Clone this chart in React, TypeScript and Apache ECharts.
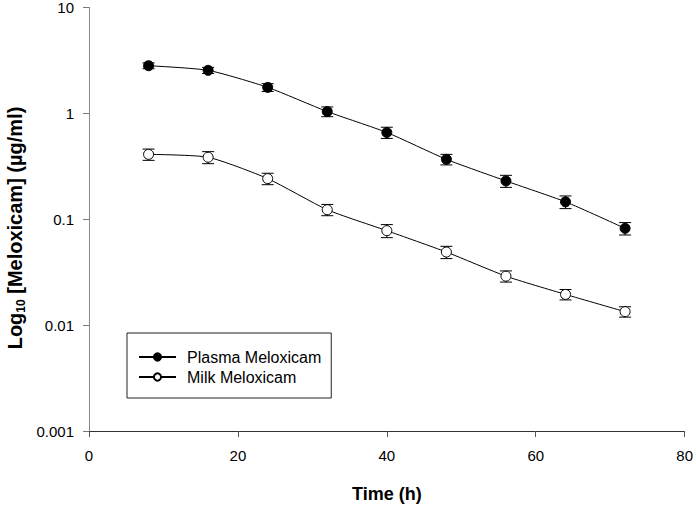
import React, { useEffect, useRef } from "react";
import * as echarts from "echarts";

const times = [8, 16, 24, 32, 40, 48, 56, 64, 72];
const plasma = [2.82, 2.55, 1.76, 1.04, 0.66, 0.368, 0.23, 0.146, 0.082];
const plasmaErr = [0.18, 0.17, 0.15, 0.11, 0.08, 0.042, 0.03, 0.02, 0.011];
const milk = [0.41, 0.385, 0.242, 0.123, 0.078, 0.049, 0.029, 0.0195, 0.0134];
const milkErr = [0.05, 0.05, 0.03, 0.015, 0.011, 0.0065, 0.0035, 0.0022, 0.0015];
const xTicks = [0, 20, 40, 60, 80];
const yTicks = ["0.001", "0.01", "0.1", "1", "10"];

const FONT = "'Liberation Sans', Arial, sans-serif";

function errData(vals: number[], errs: number[]) {
  return times.map((t, i) => [t, vals[i] - errs[i], vals[i] + errs[i]]);
}

function renderErr(params: any, api: any) {
  const x = api.value(0);
  const lo = api.coord([x, api.value(1)]);
  const hi = api.coord([x, api.value(2)]);
  const hw = 6;
  const style = { stroke: "#000", lineWidth: 1 };
  return {
    type: "group",
    children: [
      { type: "line", shape: { x1: lo[0], y1: lo[1], x2: hi[0], y2: hi[1] }, style },
      { type: "line", shape: { x1: lo[0] - hw, y1: lo[1], x2: lo[0] + hw, y2: lo[1] }, style },
      { type: "line", shape: { x1: hi[0] - hw, y1: hi[1], x2: hi[0] + hw, y2: hi[1] }, style },
    ],
  };
}

export default function App() {
  const ref = useRef<HTMLDivElement>(null);
  useEffect(() => {
    const chart = echarts.init(ref.current!, null, { renderer: "svg" });
    chart.setOption({
      animation: false,
      textStyle: { fontFamily: FONT },
      grid: { left: 89, right: 9, top: 6, bottom: 77, containLabel: false },
      xAxis: {
        type: "value",
        min: xTicks[0],
        max: xTicks[xTicks.length - 1],
        interval: 20,
        name: "Time (h)",
        nameLocation: "middle",
        nameGap: 54,
        nameTextStyle: { fontFamily: FONT, fontWeight: "bold", fontSize: 18, color: "#000" },
        axisLine: { onZero: false, lineStyle: { color: "#333", width: 1 } },
        axisTick: { show: true, length: 6, lineStyle: { color: "#555" } },
        axisLabel: { fontFamily: FONT, fontSize: 15, color: "#000", margin: 17 },
        splitLine: { show: false },
      },
      yAxis: {
        type: "log",
        logBase: 10,
        min: Number(yTicks[0]),
        max: Number(yTicks[yTicks.length - 1]),
        axisLine: { show: true, lineStyle: { color: "#888", width: 1 } },
        axisTick: { show: true, length: 6, lineStyle: { color: "#777" } },
        axisLabel: {
          fontFamily: FONT,
          fontSize: 15,
          color: "#000",
          margin: 15,
          formatter: (v: number) => {
            const s = Number(v.toPrecision(1)).toString();
            const m = yTicks.find((t) => Number(t) === Number(s));
            return m ?? s;
          },
        },
        splitLine: { show: false },
        minorTick: { show: false },
      },
      legend: {
        left: 127,
        top: 333,
        orient: "vertical",
        padding: [15, 10, 12, 11],
        itemGap: 2,
        itemWidth: 37,
        itemHeight: 9,
        borderColor: "#222",
        borderWidth: 1,
        textStyle: { fontFamily: FONT, fontSize: 16, color: "#000", padding: [0, 0, 0, 6], lineHeight: 18 },
        data: ["Plasma Meloxicam", "Milk Meloxicam"],
      },
      graphic: [
        {
          type: "text",
          x: 15,
          y: 228,
          rotation: Math.PI / 2,
          style: {
            text: "{a|Log}{b|10}{a| [Meloxicam] (µg/ml)}",
            align: "center",
            verticalAlign: "middle",
            fill: "#000",
            rich: {
              a: { fontFamily: FONT, fontWeight: "bold", fontSize: 20, lineHeight: 23 },
              b: { fontFamily: FONT, fontWeight: "bold", fontSize: 12, verticalAlign: "bottom", lineHeight: 15 },
            },
          },
        },
      ],
      series: [
        {
          type: "custom",
          name: "plasmaErr",
          renderItem: renderErr,
          data: errData(plasma, plasmaErr),
          z: 1,
          silent: true,
        },
        {
          type: "custom",
          name: "milkErr",
          renderItem: renderErr,
          data: errData(milk, milkErr),
          z: 1,
          silent: true,
        },
        {
          type: "line",
          name: "Plasma Meloxicam",
          data: times.map((t, i) => [t, plasma[i]]),
          smooth: 0.2,
          symbol: "circle",
          symbolSize: 10,
          showAllSymbol: true,
          lineStyle: { color: "#000", width: 1 },
          itemStyle: { color: "#000", borderColor: "#000", borderWidth: 1 },
          z: 3,
        },
        {
          type: "line",
          name: "Milk Meloxicam",
          data: times.map((t, i) => [t, milk[i]]),
          smooth: 0.2,
          symbol: "circle",
          symbolSize: 10,
          showAllSymbol: true,
          lineStyle: { color: "#000", width: 1 },
          itemStyle: { color: "#fff", borderColor: "#000", borderWidth: 1 },
          z: 3,
        },
      ],
    });
    return () => chart.dispose();
  }, []);
  return <div ref={ref} style={{ width: 696, height: 508, position: "absolute", left: 0, top: 0 }} />;
}
